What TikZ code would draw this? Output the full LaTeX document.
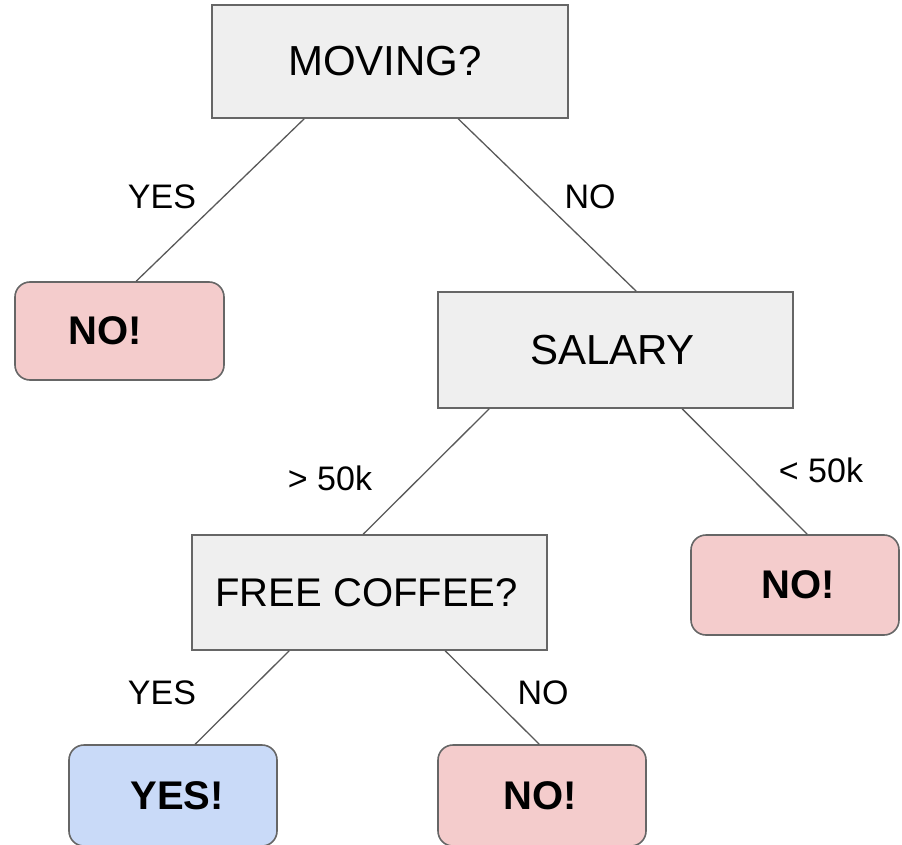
\documentclass[tikz,border=0pt]{standalone}
\usepackage{fontspec}
\setmainfont{Liberation Sans}
\usetikzlibrary{calc}
\definecolor{boxgray}{HTML}{EFEFEF}
\definecolor{boxpink}{HTML}{F4CCCC}
\definecolor{boxblue}{HTML}{C9DAF8}
\definecolor{edgegray}{HTML}{666666}
\definecolor{linegray}{HTML}{595959}
\tikzset{
  qbox/.style={draw=edgegray, line width=1.6pt, fill=boxgray, inner sep=0pt,
    font=\fontsize{40}{48}\selectfont},
  bigq/.style={font=\fontsize{42}{50}\selectfont},
  ansbox/.style={draw=edgegray, line width=1.6pt, rounded corners=15pt, inner sep=0pt,
    font=\fontsize{40}{48}\selectfont\bfseries},
  edge/.style={draw=linegray, line width=1.3pt},
  lbl/.style={font=\fontsize{34}{40}\selectfont, inner sep=0pt}
}
\begin{document}
\begin{tikzpicture}[x=1pt,y=-1pt]
\clip (0,0) rectangle (902,845);
\useasboundingbox (0,0) rectangle (902,845);
\node[qbox, bigq, minimum width=356pt, minimum height=113pt] (moving) at (390,61.5) {\raisebox{-3pt}{\hspace*{-10pt}MOVING?}};
\node[ansbox, fill=boxpink, minimum width=209pt, minimum height=98pt] (noL) at (119.5,331) {\hspace*{-28pt}NO!};
\node[qbox, bigq, minimum width=355pt, minimum height=116pt] (salary) at (615.5,350) {\raisebox{-2pt}{\hspace*{-6pt}SALARY}};
\node[qbox, minimum width=355pt, minimum height=115pt] (free) at (369.5,592.5) {\hspace*{-6pt}FREE COFFEE?};
\node[ansbox, fill=boxpink, minimum width=208pt, minimum height=100pt] (noR) at (795,585) {\hspace*{6pt}NO!};
\node[ansbox, fill=boxblue, minimum width=208pt, minimum height=101pt] (yes) at (173,795.5) {\hspace*{8pt}YES!};
\node[ansbox, fill=boxpink, minimum width=208pt, minimum height=101pt] (noB) at (542,795.5) {\hspace*{-4pt}NO!};

\draw[edge] ($(moving.south west)+(93,0)$) -- ($(noL.north west)+(122,0)$);
\draw[edge] ($(moving.south west)+(247,0)$) -- ($(salary.north west)+(199,0)$);
\draw[edge] ($(salary.south west)+(52,0)$) -- ($(free.north west)+(172,0)$);
\draw[edge] ($(salary.south west)+(245,0)$) -- ($(noR.north west)+(117,0)$);
\draw[edge] ($(free.south west)+(98,0)$) -- ($(yes.north west)+(127,0)$);
\draw[edge] ($(free.south west)+(254,0)$) -- ($(noB.north west)+(102,0)$);

\node[lbl] (l1) at (162,197) {YES};
\node[lbl] (l2) at (590,197) {NO};
\node[lbl] (l3) at (330,478) {> 50k};
\node[lbl] (l4) at (821,470) {< 50k};
\node[lbl] (l5) at (162,693) {YES};
\node[lbl] (l6) at (543,693) {NO};
\end{tikzpicture}
\end{document}
